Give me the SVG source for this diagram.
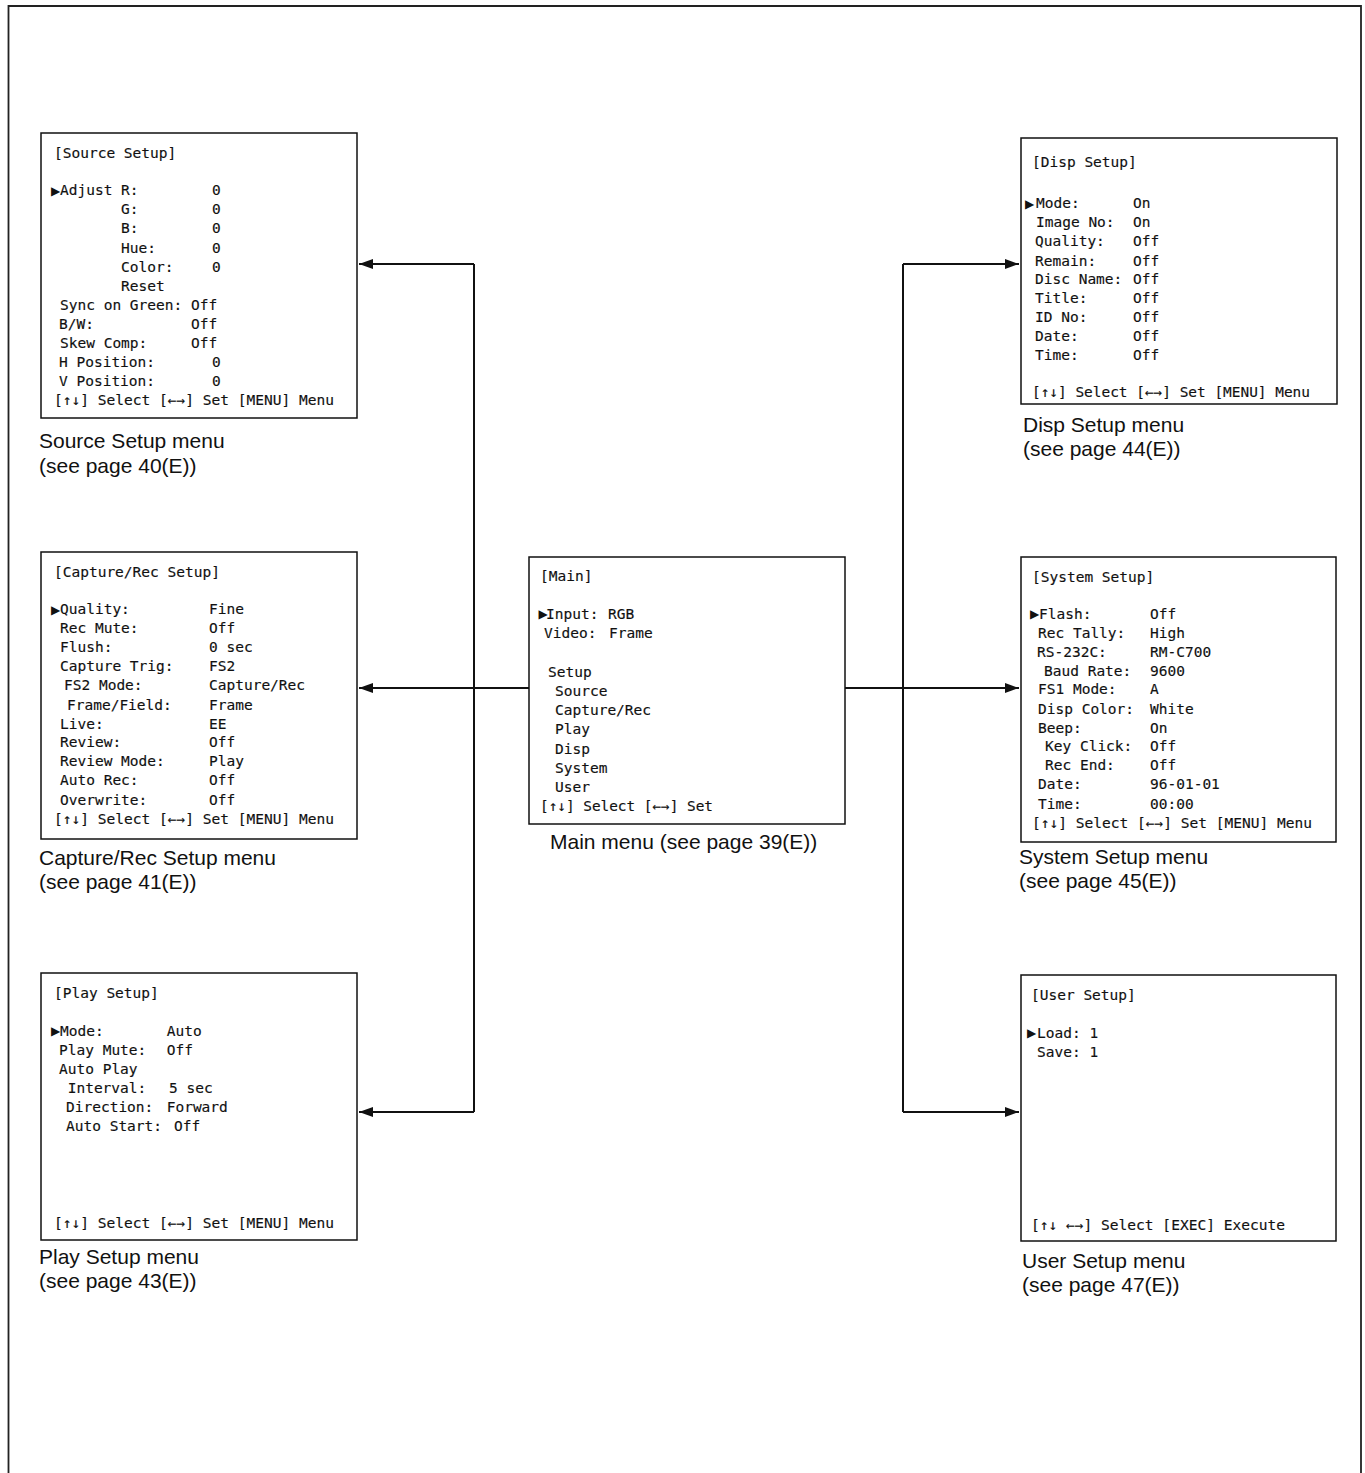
<svg xmlns="http://www.w3.org/2000/svg" width="1365" height="1473" viewBox="0 0 1365 1473">
<style>
.box{fill:#fff;stroke:#111;stroke-width:1.5}
.t{font-family:"DejaVu Sans Mono","Liberation Mono",monospace;font-size:14.5px;fill:#111;stroke:#111;stroke-width:0.15}
.p{font-family:"DejaVu Sans","Liberation Sans",sans-serif;font-size:12px;fill:#111}
.c{font-family:"Liberation Sans",Arial,sans-serif;font-size:21px;fill:#111}
.ln{fill:none;stroke:#111;stroke-width:2}
</style>
<defs>
<marker id="ah" markerUnits="userSpaceOnUse" markerWidth="14" markerHeight="10" refX="14" refY="5" orient="auto">
<path d="M0,0 L14,5 L0,10 z" fill="#111"/>
</marker>
</defs>
<rect width="1365" height="1473" fill="#fff"/>
<path d="M8.5,1473 V6 H1361 V1473" fill="none" stroke="#222" stroke-width="1.8"/>

<g id="connectors">
<path class="ln" d="M474,264 V1112"/>
<path class="ln" d="M474,264 H359" marker-end="url(#ah)"/>
<path class="ln" d="M529,688 H359" marker-end="url(#ah)"/>
<path class="ln" d="M474,1112 H359" marker-end="url(#ah)"/>
<path class="ln" d="M903,264 V1112"/>
<path class="ln" d="M903,264 H1019" marker-end="url(#ah)"/>
<path class="ln" d="M845,688 H1019" marker-end="url(#ah)"/>
<path class="ln" d="M903,1112 H1019" marker-end="url(#ah)"/>
</g>

<g id="source-setup">
<rect class="box" x="41" y="133" width="316" height="285"/>
<text class="t" x="54" y="158">[Source Setup]</text>
<text class="p" x="51" y="194.5">▶</text>
<text class="t" x="60" y="195">Adjust R:</text><text class="t" x="212" y="195">0</text>
<text class="t" x="121" y="214">G:</text><text class="t" x="212" y="214">0</text>
<text class="t" x="121" y="233">B:</text><text class="t" x="212" y="233">0</text>
<text class="t" x="121" y="252.5">Hue:</text><text class="t" x="212" y="252.5">0</text>
<text class="t" x="121" y="271.5">Color:</text><text class="t" x="212" y="271.5">0</text>
<text class="t" x="121" y="290.5">Reset</text>
<text class="t" x="60" y="309.5">Sync on Green:</text><text class="t" x="191" y="309.5">Off</text>
<text class="t" x="59" y="328.6">B/W:</text><text class="t" x="191" y="328.6">Off</text>
<text class="t" x="60" y="347.7">Skew Comp:</text><text class="t" x="191" y="347.7">Off</text>
<text class="t" x="59" y="366.8">H Position:</text><text class="t" x="212" y="366.8">0</text>
<text class="t" x="59" y="385.9">V Position:</text><text class="t" x="212" y="385.9">0</text>
<text class="t" x="54" y="405" textLength="280" lengthAdjust="spacingAndGlyphs">[↑↓] Select [←→] Set [MENU] Menu</text>
<text class="c" x="39" y="448">Source Setup menu</text>
<text class="c" x="39" y="473">(see page 40(E))</text>
</g>

<g id="capture-rec-setup">
<rect class="box" x="41" y="552" width="316" height="287"/>
<text class="t" x="54" y="577">[Capture/Rec Setup]</text>
<text class="p" x="51" y="613.5">▶</text>
<text class="t" x="60" y="614">Quality:</text><text class="t" x="209" y="614">Fine</text>
<text class="t" x="60" y="633">Rec Mute:</text><text class="t" x="209" y="633">Off</text>
<text class="t" x="60" y="652.3">Flush:</text><text class="t" x="209" y="652.3">0 sec</text>
<text class="t" x="60" y="671.3">Capture Trig:</text><text class="t" x="209" y="671.3">FS2</text>
<text class="t" x="64" y="690.3">FS2 Mode:</text><text class="t" x="209" y="690.3">Capture/Rec</text>
<text class="t" x="67" y="709.7">Frame/Field:</text><text class="t" x="209" y="709.7">Frame</text>
<text class="t" x="60" y="728.7">Live:</text><text class="t" x="209" y="728.7">EE</text>
<text class="t" x="60" y="747.3">Review:</text><text class="t" x="209" y="747.3">Off</text>
<text class="t" x="60" y="766.3">Review Mode:</text><text class="t" x="209" y="766.3">Play</text>
<text class="t" x="60" y="785.3">Auto Rec:</text><text class="t" x="209" y="785.3">Off</text>
<text class="t" x="60" y="804.7">Overwrite:</text><text class="t" x="209" y="804.7">Off</text>
<text class="t" x="54" y="823.7" textLength="280" lengthAdjust="spacingAndGlyphs">[↑↓] Select [←→] Set [MENU] Menu</text>
<text class="c" x="39" y="865">Capture/Rec Setup menu</text>
<text class="c" x="39" y="889">(see page 41(E))</text>
</g>

<g id="play-setup">
<rect class="box" x="41" y="973" width="316" height="267"/>
<text class="t" x="54" y="998">[Play Setup]</text>
<text class="p" x="51" y="1035.2">▶</text>
<text class="t" x="60" y="1035.7">Mode:</text><text class="t" x="166.7" y="1035.7">Auto</text>
<text class="t" x="59" y="1054.5">Play Mute:</text><text class="t" x="166.7" y="1054.5">Off</text>
<text class="t" x="59" y="1073.5">Auto Play</text>
<text class="t" x="67.7" y="1093">Interval:</text><text class="t" x="169" y="1093">5 sec</text>
<text class="t" x="66" y="1112">Direction:</text><text class="t" x="166.7" y="1112">Forward</text>
<text class="t" x="66" y="1131">Auto Start:</text><text class="t" x="174" y="1131">Off</text>
<text class="t" x="54" y="1228" textLength="280" lengthAdjust="spacingAndGlyphs">[↑↓] Select [←→] Set [MENU] Menu</text>
<text class="c" x="39" y="1264">Play Setup menu</text>
<text class="c" x="39" y="1288">(see page 43(E))</text>
</g>

<g id="main-menu">
<rect class="box" x="529" y="557" width="316" height="267"/>
<text class="t" x="540" y="581">[Main]</text>
<text class="p" x="538.5" y="618.2">▶</text>
<text class="t" x="546" y="618.7">Input:</text><text class="t" x="608" y="618.7">RGB</text>
<text class="t" x="544" y="638">Video:</text><text class="t" x="609" y="638">Frame</text>
<text class="t" x="548" y="676.6">Setup</text>
<text class="t" x="555" y="695.8">Source</text>
<text class="t" x="555" y="715">Capture/Rec</text>
<text class="t" x="555" y="734">Play</text>
<text class="t" x="555" y="753.5">Disp</text>
<text class="t" x="555" y="772.7">System</text>
<text class="t" x="555" y="792">User</text>
<text class="t" x="540" y="811" textLength="173" lengthAdjust="spacingAndGlyphs">[↑↓] Select [←→] Set</text>
<text class="c" x="550" y="849">Main menu (see page 39(E))</text>
</g>

<g id="disp-setup">
<rect class="box" x="1021" y="138" width="316" height="266"/>
<text class="t" x="1032" y="166.7">[Disp Setup]</text>
<text class="p" x="1025" y="207.8">▶</text>
<text class="t" x="1036" y="208.3">Mode:</text><text class="t" x="1133" y="208.3">On</text>
<text class="t" x="1036" y="227">Image No:</text><text class="t" x="1133" y="227">On</text>
<text class="t" x="1035" y="246">Quality:</text><text class="t" x="1133" y="246">Off</text>
<text class="t" x="1035" y="265.7">Remain:</text><text class="t" x="1133" y="265.7">Off</text>
<text class="t" x="1035" y="284">Disc Name:</text><text class="t" x="1133" y="284">Off</text>
<text class="t" x="1035" y="303">Title:</text><text class="t" x="1133" y="303">Off</text>
<text class="t" x="1035" y="322.3">ID No:</text><text class="t" x="1133" y="322.3">Off</text>
<text class="t" x="1035" y="340.7">Date:</text><text class="t" x="1133" y="340.7">Off</text>
<text class="t" x="1035" y="360">Time:</text><text class="t" x="1133" y="360">Off</text>
<text class="t" x="1032" y="397.3" textLength="278" lengthAdjust="spacingAndGlyphs">[↑↓] Select [←→] Set [MENU] Menu</text>
<text class="c" x="1023" y="432">Disp Setup menu</text>
<text class="c" x="1023" y="456">(see page 44(E))</text>
</g>

<g id="system-setup">
<rect class="box" x="1021" y="557" width="315" height="285"/>
<text class="t" x="1032" y="582">[System Setup]</text>
<text class="p" x="1030" y="618.2">▶</text>
<text class="t" x="1039" y="618.7">Flash:</text><text class="t" x="1150" y="618.7">Off</text>
<text class="t" x="1038" y="637.7">Rec Tally:</text><text class="t" x="1150" y="637.7">High</text>
<text class="t" x="1037" y="657">RS-232C:</text><text class="t" x="1150" y="657">RM-C700</text>
<text class="t" x="1044" y="676">Baud Rate:</text><text class="t" x="1150" y="676">9600</text>
<text class="t" x="1038" y="694.3">FS1 Mode:</text><text class="t" x="1150" y="694.3">A</text>
<text class="t" x="1038" y="713.7">Disp Color:</text><text class="t" x="1150" y="713.7">White</text>
<text class="t" x="1038" y="732.7">Beep:</text><text class="t" x="1150" y="732.7">On</text>
<text class="t" x="1045" y="751.3">Key Click:</text><text class="t" x="1150" y="751.3">Off</text>
<text class="t" x="1045" y="770.3">Rec End:</text><text class="t" x="1150" y="770.3">Off</text>
<text class="t" x="1038" y="789.3">Date:</text><text class="t" x="1150" y="789.3">96-01-01</text>
<text class="t" x="1038" y="808.7">Time:</text><text class="t" x="1150" y="808.7">00:00</text>
<text class="t" x="1032" y="827.7" textLength="280" lengthAdjust="spacingAndGlyphs">[↑↓] Select [←→] Set [MENU] Menu</text>
<text class="c" x="1019" y="864">System Setup menu</text>
<text class="c" x="1019" y="888">(see page 45(E))</text>
</g>

<g id="user-setup">
<rect class="box" x="1021" y="975" width="315" height="266"/>
<text class="t" x="1031" y="1000">[User Setup]</text>
<text class="p" x="1027" y="1037.2">▶</text>
<text class="t" x="1037" y="1037.7">Load: 1</text>
<text class="t" x="1037" y="1056.7">Save: 1</text>
<text class="t" x="1031" y="1230" textLength="254" lengthAdjust="spacingAndGlyphs">[↑↓ ←→] Select [EXEC] Execute</text>
<text class="c" x="1022" y="1268">User Setup menu</text>
<text class="c" x="1022" y="1292">(see page 47(E))</text>
</g>
</svg>
